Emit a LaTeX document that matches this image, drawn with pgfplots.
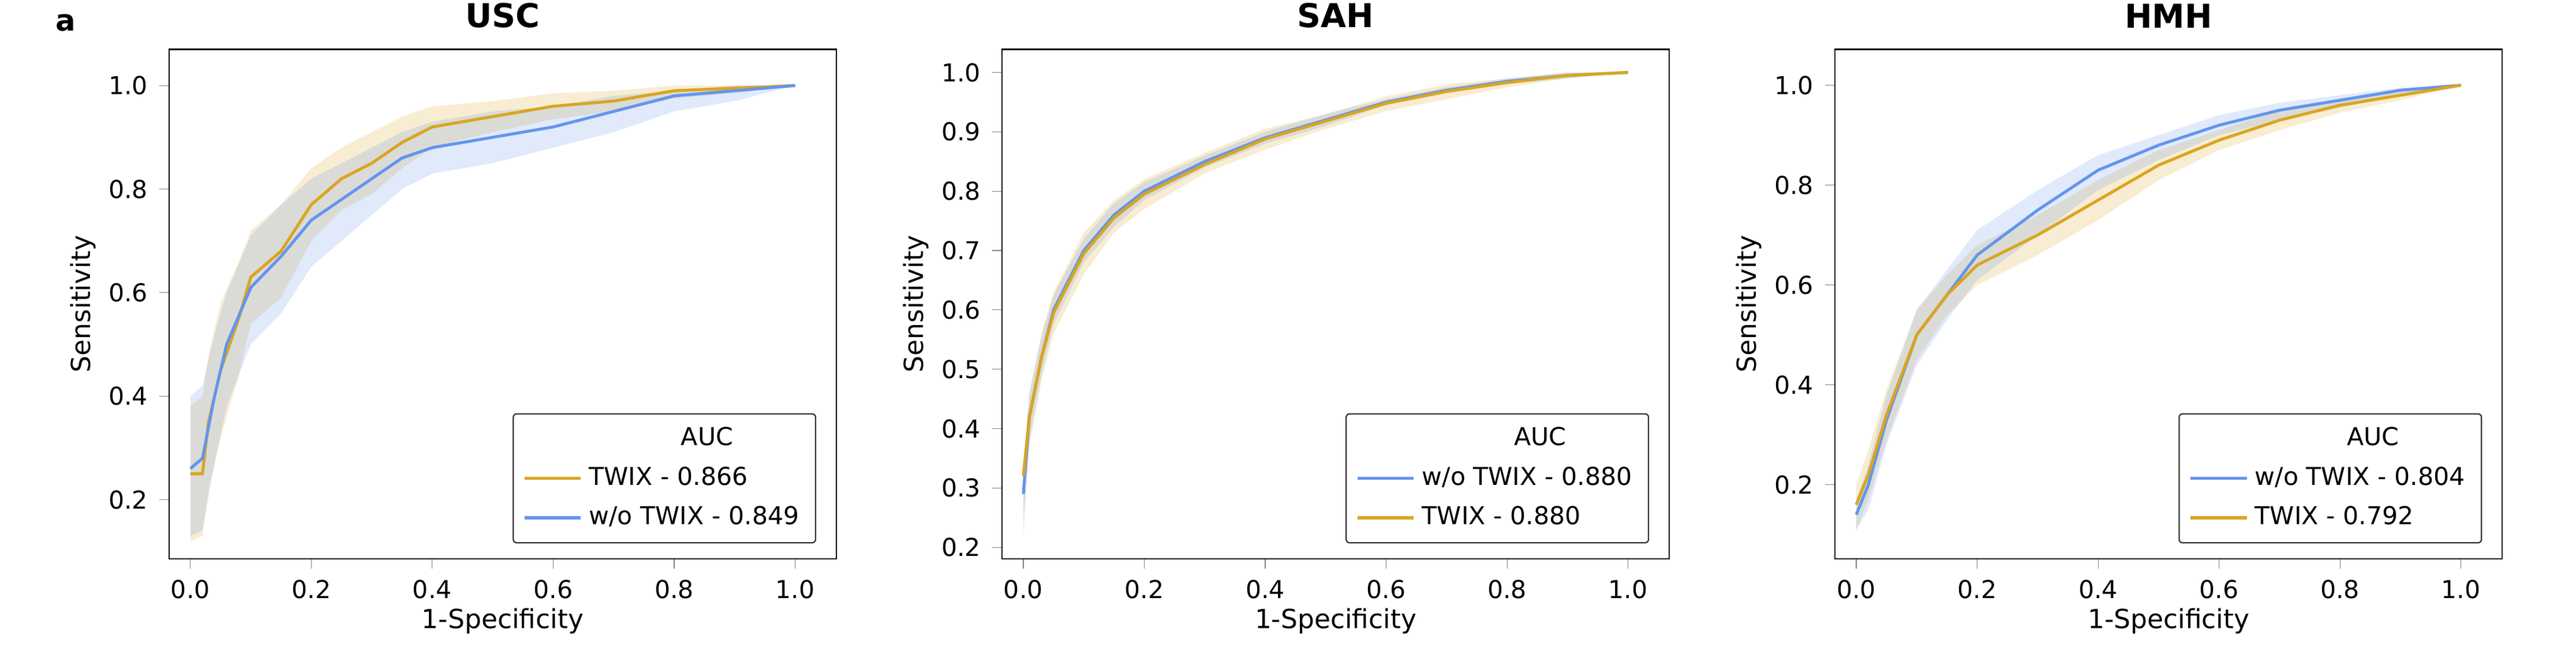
\documentclass[border=0pt]{standalone}
\usepackage{pgfplots}
\pgfplotsset{compat=1.18}
\usepackage{fontspec}
\setmainfont{DejaVu Sans}
\definecolor{gold}{RGB}{218,165,32}
\definecolor{cblue}{RGB}{100,149,237}
\pgfplotsset{roc/.style={scale only axis, width=203pt, height=155pt,
 xmin=-0.035, xmax=1.068, xtick={0,0.2,0.4,0.6,0.8,1.0},
 xticklabel style={/pgf/number format/.cd,fixed,fixed zerofill,precision=1},
 yticklabel style={/pgf/number format/.cd,fixed,fixed zerofill,precision=1},
 /pgf/number format/assume math mode=true,
 tick align=outside, xtick pos=bottom, ytick pos=left, major tick length=3pt,
 ticklabel style={font=\fontsize{7.5}{9}\selectfont},
 label style={font=\fontsize{8}{10}\selectfont},
 title style={font=\fontsize{10}{12}\selectfont\bfseries, yshift=-3pt},
 xlabel={1-Specificity}, ylabel={Sensitivity},
 xlabel style={yshift=4pt}, ylabel style={yshift=-3pt},
 legend style={at={(0.97,0.03)}, anchor=south east, font=\fontsize{7.5}{9}\selectfont, draw=black!80, rounded corners=1pt, cells={anchor=west}, row sep=1pt},
 legend cell align=left, legend image post style={line width=1pt}
}}
\begin{document}
\begin{tikzpicture}
\node[font=\fontsize{9}{11}\selectfont\bfseries] at (20pt,163pt) {a};
% USC
\begin{axis}[roc, at={(51.5pt,0pt)}, title={USC}, ymin=0.086, ymax=1.07, ytick={0.2,0.4,0.6,0.8,1.0}]
\addplot[fill=gold, fill opacity=0.2, draw=none, forget plot] coordinates {(0,0.38)(0.02,0.4)(0.03,0.48)(0.05,0.58)(0.08,0.66)(0.1,0.72)(0.15,0.77)(0.2,0.84)(0.25,0.88)(0.3,0.91)(0.35,0.94)(0.4,0.96)(0.5,0.97)(0.6,0.985)(0.7,0.99)(0.8,1)(0.9,1)(1,1)(1,1)(0.9,0.985)(0.8,0.975)(0.7,0.95)(0.6,0.935)(0.5,0.91)(0.4,0.88)(0.35,0.84)(0.3,0.79)(0.25,0.76)(0.2,0.7)(0.15,0.59)(0.1,0.54)(0.08,0.44)(0.05,0.32)(0.03,0.22)(0.02,0.13)(0,0.12)} -- cycle;
\addplot[fill=cblue, fill opacity=0.2, draw=none, forget plot] coordinates {(0,0.4)(0.02,0.42)(0.04,0.52)(0.06,0.6)(0.1,0.71)(0.15,0.77)(0.2,0.82)(0.25,0.85)(0.3,0.88)(0.35,0.91)(0.4,0.93)(0.5,0.95)(0.6,0.96)(0.7,0.98)(0.8,0.99)(0.9,1)(1,1)(1,1)(0.9,0.97)(0.8,0.95)(0.7,0.91)(0.6,0.88)(0.5,0.85)(0.4,0.83)(0.35,0.8)(0.3,0.75)(0.25,0.7)(0.2,0.65)(0.15,0.56)(0.1,0.5)(0.06,0.38)(0.04,0.27)(0.02,0.14)(0,0.13)} -- cycle;
\addlegendimage{empty legend}\addlegendentry{\hspace{28pt}AUC}
\addplot[gold, line width=0.9pt] coordinates {(0,0.25)(0.02,0.25)(0.03,0.35)(0.05,0.45)(0.08,0.55)(0.1,0.63)(0.15,0.68)(0.2,0.77)(0.25,0.82)(0.3,0.85)(0.35,0.89)(0.4,0.92)(0.5,0.94)(0.6,0.96)(0.7,0.97)(0.8,0.99)(0.9,0.995)(1,1)};
\addlegendentry{TWIX - 0.866}
\addplot[cblue, line width=0.9pt] coordinates {(0,0.26)(0.02,0.28)(0.04,0.4)(0.06,0.5)(0.1,0.61)(0.15,0.67)(0.2,0.74)(0.25,0.78)(0.3,0.82)(0.35,0.86)(0.4,0.88)(0.5,0.9)(0.6,0.92)(0.7,0.95)(0.8,0.98)(0.9,0.99)(1,1)};
\addlegendentry{w/o TWIX - 0.849}
\end{axis}
% SAH
\begin{axis}[roc, at={(305pt,0pt)}, title={SAH}, ymin=0.181, ymax=1.039, ytick={0.2,0.3,0.4,0.5,0.6,0.7,0.8,0.9,1.0}]
\addplot[fill=gold, fill opacity=0.2, draw=none, forget plot] coordinates {(0,0.34)(0.01,0.46)(0.03,0.56)(0.05,0.63)(0.1,0.73)(0.15,0.785)(0.2,0.82)(0.3,0.865)(0.4,0.905)(0.5,0.93)(0.6,0.96)(0.7,0.98)(0.8,0.99)(0.9,1)(1,1)(1,1)(0.9,0.99)(0.8,0.975)(0.7,0.955)(0.6,0.935)(0.5,0.905)(0.4,0.87)(0.3,0.83)(0.2,0.77)(0.15,0.73)(0.1,0.66)(0.05,0.56)(0.03,0.48)(0.01,0.37)(0,0.25)} -- cycle;
\addplot[fill=cblue, fill opacity=0.2, draw=none, forget plot] coordinates {(0,0.33)(0.01,0.46)(0.03,0.555)(0.05,0.625)(0.1,0.72)(0.15,0.78)(0.2,0.815)(0.3,0.86)(0.4,0.9)(0.5,0.93)(0.6,0.955)(0.7,0.975)(0.8,0.99)(0.9,1)(1,1)(1,1)(0.9,0.99)(0.8,0.98)(0.7,0.965)(0.6,0.945)(0.5,0.91)(0.4,0.88)(0.3,0.84)(0.2,0.785)(0.15,0.74)(0.1,0.68)(0.05,0.575)(0.03,0.49)(0.01,0.38)(0,0.22)} -- cycle;
\addlegendimage{empty legend}\addlegendentry{\hspace{28pt}AUC}
\addplot[cblue, line width=0.9pt] coordinates {(0,0.29)(0.01,0.42)(0.03,0.52)(0.05,0.6)(0.1,0.7)(0.15,0.76)(0.2,0.8)(0.3,0.85)(0.4,0.89)(0.5,0.92)(0.6,0.95)(0.7,0.97)(0.8,0.985)(0.9,0.995)(1,1)};
\addlegendentry{w/o TWIX - 0.880}
\addplot[gold, line width=0.9pt] coordinates {(0,0.32)(0.01,0.42)(0.03,0.52)(0.05,0.595)(0.1,0.695)(0.15,0.755)(0.2,0.795)(0.3,0.845)(0.4,0.888)(0.5,0.918)(0.6,0.948)(0.7,0.968)(0.8,0.983)(0.9,0.995)(1,1)};
\addlegendentry{TWIX - 0.880}
\end{axis}
% HMH
\begin{axis}[roc, at={(558.5pt,0pt)}, title={HMH}, ymin=0.052, ymax=1.072, ytick={0.2,0.4,0.6,0.8,1.0}]
\addplot[fill=gold, fill opacity=0.2, draw=none, forget plot] coordinates {(0,0.2)(0.02,0.27)(0.05,0.39)(0.1,0.55)(0.15,0.62)(0.2,0.68)(0.3,0.74)(0.4,0.81)(0.5,0.87)(0.6,0.91)(0.7,0.95)(0.8,0.97)(0.9,0.99)(1,1)(1,1)(0.9,0.97)(0.8,0.945)(0.7,0.91)(0.6,0.87)(0.5,0.81)(0.4,0.73)(0.3,0.66)(0.2,0.6)(0.15,0.54)(0.1,0.45)(0.05,0.29)(0.02,0.17)(0,0.11)} -- cycle;
\addplot[fill=cblue, fill opacity=0.2, draw=none, forget plot] coordinates {(0,0.17)(0.02,0.24)(0.05,0.38)(0.1,0.55)(0.15,0.63)(0.2,0.71)(0.3,0.79)(0.4,0.86)(0.5,0.9)(0.6,0.94)(0.7,0.965)(0.8,0.98)(0.9,0.995)(1,1)(1,1)(0.9,0.98)(0.8,0.955)(0.7,0.93)(0.6,0.9)(0.5,0.85)(0.4,0.79)(0.3,0.7)(0.2,0.61)(0.15,0.53)(0.1,0.44)(0.05,0.28)(0.02,0.15)(0,0.11)} -- cycle;
\addlegendimage{empty legend}\addlegendentry{\hspace{28pt}AUC}
\addplot[cblue, line width=0.9pt] coordinates {(0,0.14)(0.02,0.2)(0.05,0.33)(0.1,0.5)(0.15,0.58)(0.2,0.66)(0.3,0.75)(0.4,0.83)(0.5,0.88)(0.6,0.92)(0.7,0.95)(0.8,0.97)(0.9,0.99)(1,1)};
\addlegendentry{w/o TWIX - 0.804}
\addplot[gold, line width=0.9pt] coordinates {(0,0.16)(0.02,0.22)(0.05,0.34)(0.1,0.5)(0.15,0.58)(0.2,0.64)(0.3,0.7)(0.4,0.77)(0.5,0.84)(0.6,0.89)(0.7,0.93)(0.8,0.96)(0.9,0.98)(1,1)};
\addlegendentry{TWIX - 0.792}
\end{axis}
\pgfresetboundingbox
\path (0pt,-31pt) rectangle (784pt,170pt);
\end{tikzpicture}
\end{document}
